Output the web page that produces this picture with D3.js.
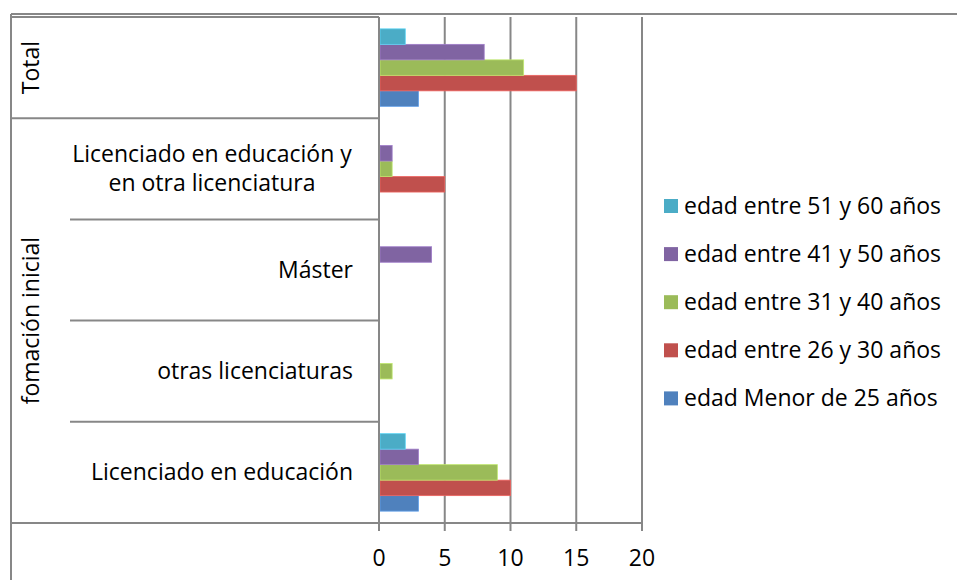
<!DOCTYPE html>
<html>
<head>
<meta charset="utf-8">
<script src="https://cdn.jsdelivr.net/npm/d3@7"></script>
<style>
  body { margin: 0; background: #fff; }
  svg { display: block; font-family: "Open Sans", sans-serif; }
</style>
</head>
<body>
<svg width="957" height="580"></svg>
<script>
// categories top to bottom
const categories = [
  "Total",
  "Licenciado en educación y en otra licenciatura",
  "Máster",
  "otras licenciaturas",
  "Licenciado en educación"
];

// group labels on the far left, with how many categories each one covers
const groups = ["Total", "fomación inicial"];
const groupSpans = [1, 4];

// series in Excel order (first one is drawn lowest in each cluster)
const seriesNames = [
  "edad Menor de 25 años",
  "edad entre 26 y 30 años",
  "edad entre 31 y 40 años",
  "edad entre 41 y 50 años",
  "edad entre 51 y 60 años"
];
const seriesColors = ["#4f81bd", "#c0504d", "#9bbb59", "#8064a2", "#4bacc6"];

const menor25 = [3, 0, 0, 0, 3];
const entre26y30 = [15, 5, 0, 0, 10];
const entre31y40 = [11, 1, 0, 1, 9];
const entre41y50 = [8, 1, 4, 0, 3];
const entre51y60 = [2, 0, 0, 0, 2];
const seriesValues = [menor25, entre26y30, entre31y40, entre41y50, entre51y60];

const xTicks = [0, 5, 10, 15, 20];

const svg = d3.select("svg");
const gridColor = "#878787";
const fontSize = 23;

const plotTop = 17, plotBottom = 523;
const x = d3.scaleLinear().domain([0, 20]).range([379, 642]);

const y = d3.scaleBand()
  .domain(d3.range(categories.length))
  .range([plotTop, plotBottom])
  .padding(0);

// series inside a category: last series on top
const yInner = d3.scaleBand()
  .domain(d3.range(seriesNames.length).reverse())
  .range([0, y.bandwidth()])
  .paddingInner(0)
  .paddingOuter(0.765);

// outer frame (top and left edges visible)
svg.append("line")
  .attr("x1", 11).attr("x2", 957).attr("y1", 14).attr("y2", 14)
  .attr("stroke", gridColor).attr("stroke-width", 2);
svg.append("line")
  .attr("x1", 11).attr("x2", 11).attr("y1", 14).attr("y2", 580)
  .attr("stroke", gridColor).attr("stroke-width", 2);

// vertical gridlines (with tick marks below the axis)
svg.append("g")
  .selectAll("line")
  .data(xTicks)
  .join("line")
  .attr("x1", (d) => x(d))
  .attr("x2", (d) => x(d))
  .attr("y1", plotTop)
  .attr("y2", plotBottom + 8)
  .attr("stroke", gridColor)
  .attr("stroke-width", 2);

// bottom axis line
svg.append("line")
  .attr("x1", x(0)).attr("x2", x(20))
  .attr("y1", plotBottom).attr("y2", plotBottom)
  .attr("stroke", gridColor).attr("stroke-width", 2);

// tick labels
svg.append("g")
  .selectAll("text")
  .data(xTicks)
  .join("text")
  .attr("x", (d) => x(d))
  .attr("y", 566)
  .attr("text-anchor", "middle")
  .attr("font-size", fontSize)
  .attr("fill", "#000")
  .text((d) => d);

// category boundaries in the label area
const boundaries = d3.range(categories.length + 1).map((i) =>
  i < categories.length ? y(i) : plotBottom
);
const groupEdges = [0];
groupSpans.forEach((s) => groupEdges.push(groupEdges[groupEdges.length - 1] + s));

svg.append("g")
  .selectAll("line")
  .data(d3.range(categories.length + 1))
  .join("line")
  .attr("x1", (i) => (groupEdges.includes(i) ? 11 : 70))
  .attr("x2", x(0))
  .attr("y1", (i) => boundaries[i])
  .attr("y2", (i) => boundaries[i])
  .attr("stroke", gridColor)
  .attr("stroke-width", 2);

// category labels (wrapped when too wide, then centred)
const labelRight = 353;
const maxLabelWidth = 290;
const catLabels = svg.append("g");
categories.forEach((c, i) => {
  const cy = y(i) + y.bandwidth() / 2;
  const probe = catLabels.append("text").attr("font-size", fontSize).text(c);
  const fullWidth = probe.node().getComputedTextLength();
  probe.remove();
  if (i === 0) return; // "Total" lives in the group column
  if (fullWidth <= maxLabelWidth) {
    catLabels.append("text")
      .attr("x", labelRight)
      .attr("y", cy)
      .attr("dy", "0.35em")
      .attr("text-anchor", "end")
      .attr("font-size", fontSize)
      .text(c);
  } else {
    // greedy word wrap
    const words = c.split(" ");
    const lines = [];
    let line = [];
    words.forEach((w) => {
      const test = line.concat(w).join(" ");
      const t = catLabels.append("text").attr("font-size", fontSize).text(test);
      const wdt = t.node().getComputedTextLength();
      t.remove();
      if (wdt > maxLabelWidth && line.length) {
        lines.push(line.join(" "));
        line = [w];
      } else {
        line.push(w);
      }
    });
    lines.push(line.join(" "));
    const lh = 29;
    const txt = catLabels.append("text")
      .attr("text-anchor", "middle")
      .attr("font-size", fontSize);
    lines.forEach((l, k) => {
      txt.append("tspan")
        .attr("x", 212)
        .attr("y", cy + (k - (lines.length - 1) / 2) * lh)
        .attr("dy", "0.35em")
        .text(l);
    });
  }
});

// group labels, rotated
groups.forEach((g, gi) => {
  const y0 = boundaries[groupEdges[gi]];
  const y1 = boundaries[groupEdges[gi + 1]];
  const cy = (y0 + y1) / 2;
  svg.append("text")
    .attr("transform", `translate(31,${cy}) rotate(-90)`)
    .attr("text-anchor", "middle")
    .attr("dy", "0.35em")
    .attr("font-size", fontSize)
    .text(g);
});

// bars
seriesNames.forEach((name, si) => {
  svg.append("g")
    .selectAll("rect")
    .data(seriesValues[si].map((v, ci) => ({ v: v, ci: ci })).filter((d) => d.v > 0))
    .join("rect")
    .attr("x", x(0) + 1)
    .attr("y", (d) => y(d.ci) + yInner(si))
    .attr("width", (d) => x(d.v) - x(0) - 1)
    .attr("height", yInner.bandwidth())
    .attr("fill", seriesColors[si])
    .attr("stroke", d3.color(seriesColors[si]).brighter(0.6))
    .attr("stroke-width", 0.8);
});

// axis line at zero drawn over the bars' left edge
svg.append("line")
  .attr("x1", x(0)).attr("x2", x(0))
  .attr("y1", plotTop).attr("y2", plotBottom + 8)
  .attr("stroke", gridColor).attr("stroke-width", 2);

// legend (top entry is the last series)
const legendOrder = d3.range(seriesNames.length).reverse();
const legend = svg.append("g")
  .selectAll("g")
  .data(legendOrder)
  .join("g")
  .attr("transform", (d, k) => `translate(664,${206 + k * 48.1})`);

legend.append("rect")
  .attr("x", 0).attr("y", -7)
  .attr("width", 14).attr("height", 14)
  .attr("fill", (d) => seriesColors[d]);

legend.append("text")
  .attr("x", 20)
  .attr("y", 0)
  .attr("dy", "0.35em")
  .attr("font-size", fontSize)
  .text((d) => seriesNames[d]);
</script>
</body>
</html>
